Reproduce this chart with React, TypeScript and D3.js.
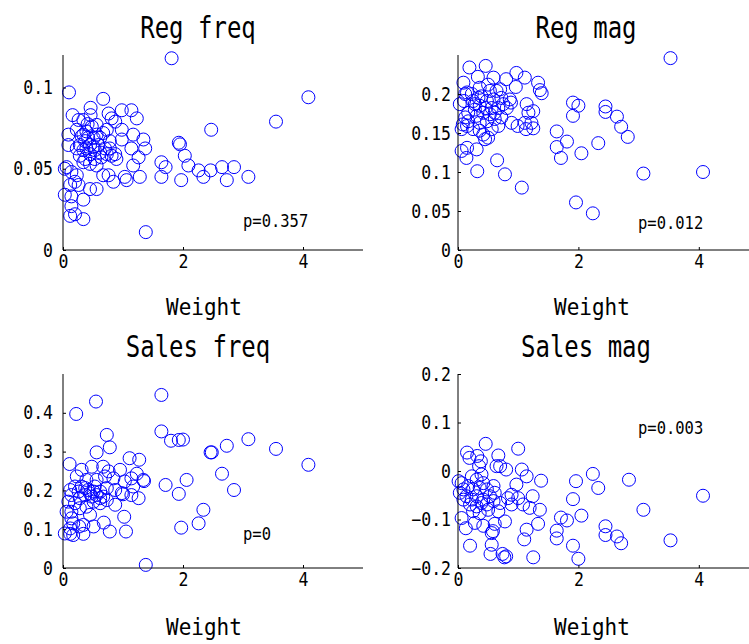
import React, { useEffect, useRef } from 'react';
import * as d3 from 'd3';

// [weight, value] pairs
const regFreqPts: [number, number][] = [
  [1.81, 0.118], [1.38, 0.011], [4.09, 0.094], [3.55, 0.079], [2.47, 0.074], [1.93, 0.066], [1.95, 0.065],
  [2.03, 0.058], [2.09, 0.052], [1.64, 0.054], [1.71, 0.051], [1.64, 0.045], [1.97, 0.043], [2.26, 0.049],
  [2.34, 0.045], [2.46, 0.049], [2.65, 0.051], [2.85, 0.051], [2.73, 0.043], [3.09, 0.045],
  [0.10, 0.097], [0.67, 0.093], [0.46, 0.0875], [0.16, 0.083], [0.76, 0.084], [0.98, 0.086], [1.14, 0.086],
  [1.23, 0.081], [0.81, 0.081], [0.46, 0.083], [0.26, 0.080], [0.34, 0.080], [0.41, 0.0775], [0.87, 0.079],
  [0.98, 0.074], [0.09, 0.071], [0.09, 0.0646], [0.23, 0.074], [0.31, 0.070], [0.37, 0.067], [0.45, 0.0646],
  [0.39, 0.0625], [0.51, 0.069], [0.56, 0.071], [0.62, 0.069], [0.67, 0.072], [0.53, 0.0615], [0.62, 0.060],
  [0.70, 0.0625], [0.78, 0.0625], [0.87, 0.059], [0.89, 0.056], [0.73, 0.059], [0.45, 0.059], [0.34, 0.0615],
  [0.28, 0.0646], [0.23, 0.0625], [0.98, 0.068], [1.17, 0.071], [1.34, 0.068], [1.37, 0.0625], [1.14, 0.0625],
  [1.26, 0.057], [1.17, 0.052], [1.28, 0.045], [1.06, 0.043], [1.03, 0.045], [0.84, 0.042], [0.76, 0.046],
  [0.67, 0.046], [0.56, 0.052], [0.45, 0.053], [0.34, 0.054], [0.06, 0.051], [0.03, 0.050], [0.14, 0.048],
  [0.23, 0.046], [0.20, 0.042], [0.26, 0.040], [0.12, 0.040], [0.03, 0.034], [0.14, 0.033], [0.34, 0.031],
  [0.45, 0.0375], [0.56, 0.0375], [0.14, 0.027], [0.12, 0.021], [0.20, 0.022], [0.34, 0.019], [0.39, 0.073],
  [0.48, 0.076], [0.56, 0.077], [0.73, 0.074], [0.78, 0.067], [0.59, 0.0646], [0.51, 0.0635], [0.42, 0.069],
  [0.34, 0.071], [0.28, 0.058], [0.37, 0.056], [0.53, 0.056], [0.64, 0.057], [0.81, 0.058],
];

const regMagPts: [number, number][] = [
  [1.64, 0.152], [1.64, 0.132], [1.71, 0.118], [1.81, 0.139], [1.91, 0.189], [1.91, 0.172], [1.96, 0.061],
  [2.0, 0.185], [2.05, 0.124], [2.24, 0.047], [2.33, 0.137], [2.45, 0.184], [2.45, 0.177], [2.64, 0.171],
  [2.71, 0.158], [2.82, 0.145], [3.08, 0.098], [3.53, 0.246], [4.07, 0.100],
  [0.19, 0.234], [0.46, 0.236], [0.33, 0.222], [0.59, 0.221], [0.80, 0.219], [0.97, 0.227], [1.11, 0.221],
  [1.33, 0.2145], [1.36, 0.205], [1.39, 0.201], [0.96, 0.209], [0.09, 0.2145], [0.10, 0.191], [0.15, 0.202],
  [0.23, 0.200], [0.36, 0.208], [0.39, 0.197], [0.48, 0.191], [0.64, 0.204], [0.70, 0.206], [0.72, 0.195],
  [0.86, 0.193], [0.75, 0.187], [0.56, 0.182], [0.36, 0.185], [0.28, 0.187], [0.42, 0.176], [0.53, 0.174],
  [0.31, 0.172], [0.17, 0.176], [0.12, 0.170], [0.17, 0.165], [0.08, 0.161], [0.06, 0.155], [0.15, 0.159],
  [0.25, 0.155], [0.36, 0.163], [0.48, 0.165], [0.61, 0.168], [0.67, 0.159], [0.56, 0.155], [0.42, 0.148],
  [0.50, 0.144], [0.45, 0.142], [0.36, 0.153], [0.72, 0.170], [0.89, 0.163], [0.99, 0.159], [1.13, 0.155],
  [1.14, 0.187], [1.17, 0.176], [1.25, 0.178], [1.22, 0.163], [1.25, 0.156], [1.11, 0.163], [0.06, 0.127],
  [0.15, 0.131], [0.14, 0.118], [0.31, 0.129], [0.32, 0.101], [0.65, 0.115], [0.78, 0.097], [1.06, 0.080],
  [0.25, 0.191], [0.34, 0.195], [0.53, 0.204], [0.59, 0.193], [0.67, 0.182], [0.46, 0.182], [0.28, 0.180],
  [0.61, 0.176], [0.81, 0.182], [0.88, 0.189], [0.50, 0.212], [0.03, 0.187], [0.12, 0.200],
];

const salesFreqPts: [number, number][] = [
  [1.64, 0.446], [1.38, 0.008], [4.09, 0.266], [3.55, 0.307], [3.09, 0.332], [2.73, 0.315], [2.46, 0.298],
  [2.48, 0.298], [2.65, 0.243], [2.85, 0.201], [2.34, 0.150], [2.26, 0.115], [1.97, 0.104], [2.06, 0.227],
  [1.93, 0.191], [1.64, 0.352], [1.80, 0.328], [1.93, 0.330], [2.0, 0.331], [1.71, 0.214],
  [0.22, 0.397], [0.55, 0.429], [0.73, 0.343], [0.78, 0.311], [0.56, 0.298], [0.11, 0.268], [0.31, 0.253],
  [0.48, 0.261], [0.67, 0.261], [0.76, 0.249], [0.95, 0.253], [1.11, 0.283], [1.27, 0.279], [1.23, 0.243],
  [1.34, 0.227], [1.35, 0.224], [1.14, 0.231], [1.03, 0.223], [0.84, 0.231], [0.70, 0.236], [0.56, 0.227],
  [0.39, 0.227], [0.23, 0.236], [0.12, 0.201], [0.20, 0.210], [0.31, 0.210], [0.42, 0.201], [0.53, 0.210],
  [0.62, 0.197], [0.73, 0.206], [0.87, 0.201], [0.98, 0.193], [1.17, 0.210], [1.26, 0.180], [1.14, 0.188],
  [1.00, 0.190], [0.87, 0.163], [0.73, 0.175], [0.62, 0.180], [0.48, 0.184], [0.37, 0.188], [0.28, 0.180],
  [0.20, 0.167], [0.09, 0.171], [0.06, 0.145], [0.14, 0.145], [0.28, 0.154], [0.39, 0.158], [0.51, 0.171],
  [0.62, 0.167], [0.45, 0.192], [0.56, 0.188], [0.67, 0.184], [0.51, 0.197], [0.37, 0.206], [0.14, 0.128],
  [0.17, 0.115], [0.12, 0.102], [0.03, 0.089], [0.12, 0.088], [0.17, 0.085], [0.34, 0.088], [0.34, 0.111],
  [0.51, 0.107], [0.68, 0.117], [0.78, 0.094], [1.05, 0.094], [1.02, 0.132], [0.27, 0.107], [0.45, 0.137],
  [0.14, 0.188], [0.26, 0.197],
];

const salesMagPts: [number, number][] = [
  [4.07, -0.051], [3.53, -0.143], [3.08, -0.080], [2.84, -0.018], [2.71, -0.149], [2.64, -0.135],
  [2.45, -0.114], [2.45, -0.132], [2.33, -0.035], [2.24, -0.006], [2.05, -0.092], [2.0, -0.181],
  [1.96, -0.021], [1.91, -0.058], [1.91, -0.154], [1.81, -0.102], [1.71, -0.096], [1.64, -0.123],
  [1.64, -0.139], [1.25, -0.178], [1.38, -0.020],
  [0.46, 0.056], [1.0, 0.046], [0.15, 0.038], [0.19, 0.027], [0.32, 0.031], [0.38, 0.020], [0.35, 0.010],
  [0.67, 0.032], [0.64, 0.010], [0.70, 0.010], [0.80, 0.003], [1.06, 0.003], [1.14, -0.011], [0.06, -0.025],
  [0.03, -0.045], [0.09, -0.059], [0.06, -0.097], [0.13, -0.118], [0.20, -0.154], [0.23, -0.011],
  [0.31, -0.018], [0.39, -0.007], [0.42, -0.025], [0.17, -0.031], [0.25, -0.038], [0.36, -0.035],
  [0.48, -0.038], [0.59, -0.031], [0.14, -0.052], [0.23, -0.059], [0.31, -0.052], [0.42, -0.059],
  [0.53, -0.052], [0.20, -0.069], [0.31, -0.073], [0.39, -0.066], [0.48, -0.069], [0.59, -0.062],
  [0.70, -0.066], [0.83, -0.056], [0.89, -0.049], [0.97, -0.028], [1.0, -0.056], [1.08, -0.069],
  [1.19, -0.076], [1.24, -0.052], [1.36, -0.080], [1.33, -0.109], [1.14, -0.121], [1.10, -0.141],
  [0.78, -0.104], [0.61, -0.109], [0.56, -0.128], [0.58, -0.124], [0.56, -0.152], [0.54, -0.171],
  [0.74, -0.171], [0.80, -0.176], [0.77, -0.178], [0.42, -0.113], [0.28, -0.107], [0.25, -0.083],
  [0.36, -0.087], [0.50, -0.080], [0.67, -0.083], [0.89, -0.069], [0.61, -0.045], [0.09, -0.038],
  [0.01, -0.021],
];

const xTicks = [0, 2, 4];
const regFreqTicks = [0, 0.05, 0.1];
const regMagTicks = [0, 0.05, 0.1, 0.15, 0.2];
const salesFreqTicks = [0, 0.1, 0.2, 0.3, 0.4];
const salesMagTicks = [-0.2, -0.1, 0, 0.1, 0.2];

const titles = ['Reg freq', 'Reg mag', 'Sales freq', 'Sales mag'];
const pLabels = ['p=0.357', 'p=0.012', 'p=0', 'p=0.003'];

const FONT = '"DejaVu Sans Mono", monospace';

// the original font is a narrow, tall gothic; stretch the mono font vertically
const stretch = (sel: any, k: number) =>
  sel.style('transform-box', 'fill-box')
    .style('transform-origin', 'center')
    .style('transform', `scaleY(${k})`);

const App = () => {
  const ref = useRef<SVGSVGElement>(null);

  useEffect(() => {
    const svg = d3.select(ref.current);
    svg.selectAll('*').remove();

    // left/right column x positions, top/bottom row y positions
    const cols = [{ x0: 63, x1: 363, labelGap: 10, titleX: 198, pX: 243 },
                  { x0: 458, x1: 759, labelGap: 7, titleX: 586, pX: 638 }];
    const rows = [{ y0: 250, y1: 55, titleY: 36, xlabY: 314 },
                  { y0: 568, y1: 374, titleY: 355, xlabY: 634 }];

    const panels = [
      { pts: regFreqPts, dom: [0, 0.12], ticks: regFreqTicks, c: 0, r: 0, pY: 226 },
      { pts: regMagPts, dom: [0, 0.25], ticks: regMagTicks, c: 1, r: 0, pY: 228 },
      { pts: salesFreqPts, dom: [0, 0.5], ticks: salesFreqTicks, c: 0, r: 1, pY: 539 },
      { pts: salesMagPts, dom: [-0.2, 0.2], ticks: salesMagTicks, c: 1, r: 1, pY: 433 },
    ];

    const fmt = (v: number) => String(+v.toFixed(3)).replace('-', '\u2212');

    panels.forEach((p, i) => {
      const col = cols[p.c];
      const row = rows[p.r];
      const x = d3.scaleLinear().domain([0, 5]).range([col.x0, col.x1]);
      const y = d3.scaleLinear().domain(p.dom).range([row.y0, row.y1]);
      const g = svg.append('g');

      // points
      g.append('g')
        .selectAll('circle')
        .data(p.pts)
        .join('circle')
        .attr('cx', d => x(d[0]))
        .attr('cy', d => y(d[1]))
        .attr('r', 6.5)
        .attr('fill', 'none')
        .attr('stroke', '#0000ff')
        .attr('stroke-width', 1);

      // axes (MATLAB style: inward ticks, no box)
      const yAxis = d3.axisLeft(y).tickValues(p.ticks).tickSize(-3).tickPadding(col.labelGap).tickFormat(d => fmt(+d));
      const xAxis = d3.axisBottom(x).tickValues(xTicks).tickSize(-3).tickPadding(5).tickFormat(d => fmt(+d));

      g.append('g')
        .attr('transform', `translate(${col.x0},0)`)
        .call(yAxis)
        .call(a => a.select('.domain').attr('d', `M0,${row.y0}V${row.y1}`))
        .call(a => stretch(a.selectAll('text').attr('font-family', FONT).attr('font-size', 16.5).attr('fill', '#000'), 1.15));

      g.append('g')
        .attr('transform', `translate(0,${row.y0})`)
        .call(xAxis)
        .call(a => a.select('.domain').attr('d', `M${col.x0},0H${col.x1}`))
        .call(a => stretch(a.selectAll('text').attr('font-family', FONT).attr('font-size', 16.5).attr('fill', '#000'), 1.15));

      g.selectAll('.tick line, .domain').attr('stroke', '#000');

      stretch(g.append('text')
        .attr('x', col.titleX)
        .attr('y', row.titleY)
        .attr('text-anchor', 'middle')
        .attr('font-family', FONT)
        .attr('font-size', 24)
        .text(titles[i]), 1.25);

      stretch(g.append('text')
        .attr('x', col.titleX + 6)
        .attr('y', row.xlabY)
        .attr('text-anchor', 'middle')
        .attr('font-family', FONT)
        .attr('font-size', 21)
        .text('Weight'), 1.12);

      stretch(g.append('text')
        .attr('x', col.pX)
        .attr('y', p.pY)
        .attr('font-family', FONT)
        .attr('font-size', 15.5)
        .text(pLabels[i]), 1.12);
    });
  }, []);

  return (
    <div>
      <style>{'body{margin:0;overflow:hidden}'}</style>
      <svg ref={ref} width={749} height={644} style={{ display: 'block', background: '#fff' }}></svg>
    </div>
  );
};

export default App;
